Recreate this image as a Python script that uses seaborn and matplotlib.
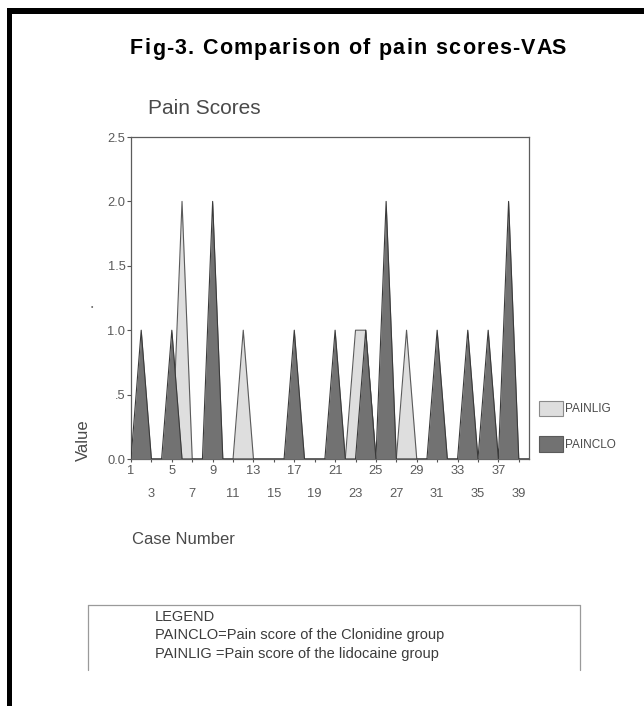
import pandas as pd
import seaborn as sns
import matplotlib.pyplot as plt
from matplotlib.patches import Patch, Rectangle
from matplotlib.lines import Line2D

# Data (case number 1..40)
cases = list(range(1, 41))
painclo = [0, 1, 0, 0, 1, 0, 0, 0, 2, 0,
           0, 0, 0, 0, 0, 0, 1, 0, 0, 0,
           1, 0, 0, 1, 0, 2, 0, 0, 0, 0,
           1, 0, 0, 1, 0, 1, 0, 2, 0, 0]
painlig = [0, 0, 0, 0, 0, 2, 0, 0, 0, 0,
           0, 1, 0, 0, 0, 0, 0, 0, 0, 0,
           0, 0, 1, 1, 0, 0, 0, 1, 0, 0,
           0, 0, 0, 0, 0, 0, 0, 0, 0, 0]
y_ticks = [0, 0.5, 1.0, 1.5, 2.0, 2.5]
y_labels = ["0.0", ".5", "1.0", "1.5", "2.0", "2.5"]
x_row1 = list(range(1, 40, 4))
x_row2 = list(range(3, 40, 4))

df = pd.DataFrame({"case": cases, "PAINLIG": painlig, "PAINCLO": painclo})
long_df = df.melt(id_vars="case", var_name="series", value_name="value")

sns.set_theme(style="white")
plt.rcParams["font.family"] = ["Liberation Sans", "DejaVu Sans"]

W, H = 644, 706
fig = plt.figure(figsize=(W / 100, H / 100), dpi=100)
ax = fig.add_axes([131 / W, 1 - 459 / H, (529 - 131) / W, (459 - 137) / H])

fills = {"PAINLIG": "#dedede", "PAINCLO": "#727272"}
edges = {"PAINLIG": "#5a5a5a", "PAINCLO": "#3a3a3a"}

# light series first, dark drawn over it
for i, name in enumerate(["PAINLIG", "PAINCLO"]):
    sub = long_df[long_df["series"] == name]
    ax.fill_between(sub["case"], sub["value"], 0, color=fills[name],
                    linewidth=0, zorder=2 + 2 * i)
    sns.lineplot(data=sub, x="case", y="value", color=edges[name],
                 linewidth=0.8, ax=ax, zorder=3 + 2 * i)

ax.set_xlim(1, 40)
ax.set_ylim(0, 2.5)
ax.set_xlabel("")
ax.set_ylabel("")

for sp in ax.spines.values():
    sp.set_color("#5c5c5c")
    sp.set_linewidth(0.9)

txt = "#4a4a4a"
tick_txt = "#5a5a5a"
ax.set_yticks(y_ticks, y_labels)
ax.tick_params(axis="y", left=True, length=3, width=0.8, color="#555555",
               labelsize=9.3, labelcolor=tick_txt, pad=1)
ax.set_xticks(x_row1, [str(v) for v in x_row1])
ax.set_xticks(x_row2, [str(v) for v in x_row2], minor=True)
ax.tick_params(axis="x", which="major", bottom=True, length=2, width=0.8,
               color="#555555", labelsize=9.3, labelcolor=tick_txt, pad=2.5)
ax.tick_params(axis="x", which="minor", bottom=True, length=2, width=0.8,
               color="#555555", labelsize=9.3, labelcolor=tick_txt, pad=19)

handles = [Patch(facecolor=fills["PAINLIG"], edgecolor="#8a8a8a", linewidth=0.8),
           Patch(facecolor=fills["PAINCLO"], edgecolor="#5a5a5a", linewidth=0.8)]
leg = fig.legend(handles, ["PAINLIG", "PAINCLO"], loc="upper left",
                 bbox_to_anchor=(539 / W, 1 - 401 / H), frameon=False,
                 fontsize=8.5, handlelength=2.03, handleheight=1.61,
                 labelspacing=1.7, handletextpad=0.2, borderpad=0,
                 borderaxespad=0)
for t in leg.get_texts():
    t.set_color(txt)

# title with a little letter spacing
title = "Fig-3. Comparison of pain scores-VAS"
renderer = fig.canvas.get_renderer()


def text_width(s, **kw):
    t = fig.text(0, 0, s, **kw)
    w = t.get_window_extent(renderer).width
    t.remove()
    return w


tkw = dict(fontsize=15.5, fontweight="bold", color="black")
x_start, x_end = 130, 566
ref_w = text_width("x", **tkw)
offsets = [text_width(title[:i] + "x", **tkw) - ref_w for i in range(len(title))]
full_w = offsets[-1] + text_width(title[-1], **tkw)
track = (x_end - x_start - full_w) / (len(title) - 1)
for i, ch in enumerate(title):
    if ch == " ":
        continue
    fig.text((x_start + offsets[i] + i * track) / W, 1 - 49 / H, ch,
             ha="left", va="center", **tkw)

fig.text(148 / W, 1 - 108 / H, "Pain Scores", ha="left", va="center",
         fontsize=15, color=txt)
fig.text(83 / W, 1 - 440 / H, "Value", ha="center", va="center",
         rotation=90, fontsize=12, color=txt)
fig.text(132 / W, 1 - 540 / H, "Case Number", ha="left", va="center",
         fontsize=12, color=txt)
fig.text(92 / W, 1 - 308 / H, "\u2022", ha="center", va="center",
         fontsize=5, color="#666666")

# legend box at bottom
box_c = "#9a9a9a"
fig.add_artist(Line2D([88 / W, 580 / W], [1 - 605 / H, 1 - 605 / H], color=box_c, lw=0.9))
fig.add_artist(Line2D([88 / W, 88 / W], [1 - 605 / H, 1 - 670 / H], color=box_c, lw=0.9))
fig.add_artist(Line2D([580 / W, 580 / W], [1 - 605 / H, 1 - 670 / H], color=box_c, lw=0.9))
for yy, s in [(617, "LEGEND"), (635, "PAINCLO=Pain score of the Clonidine group"),
              (654, "PAINLIG =Pain score of the lidocaine group")]:
    fig.text(155 / W, 1 - yy / H, s, ha="left", va="center", fontsize=10.5, color="#3c3c3c")

# thick frame on top and left
fig.add_artist(Rectangle((7 / W, 0), 5 / W, 1 - 8 / H, transform=fig.transFigure,
                         color="black", lw=0))
fig.add_artist(Rectangle((7 / W, 1 - 14 / H), 1 - 7 / W, 6 / H, transform=fig.transFigure,
                         color="black", lw=0))

fig.savefig("out.png", dpi=100)
